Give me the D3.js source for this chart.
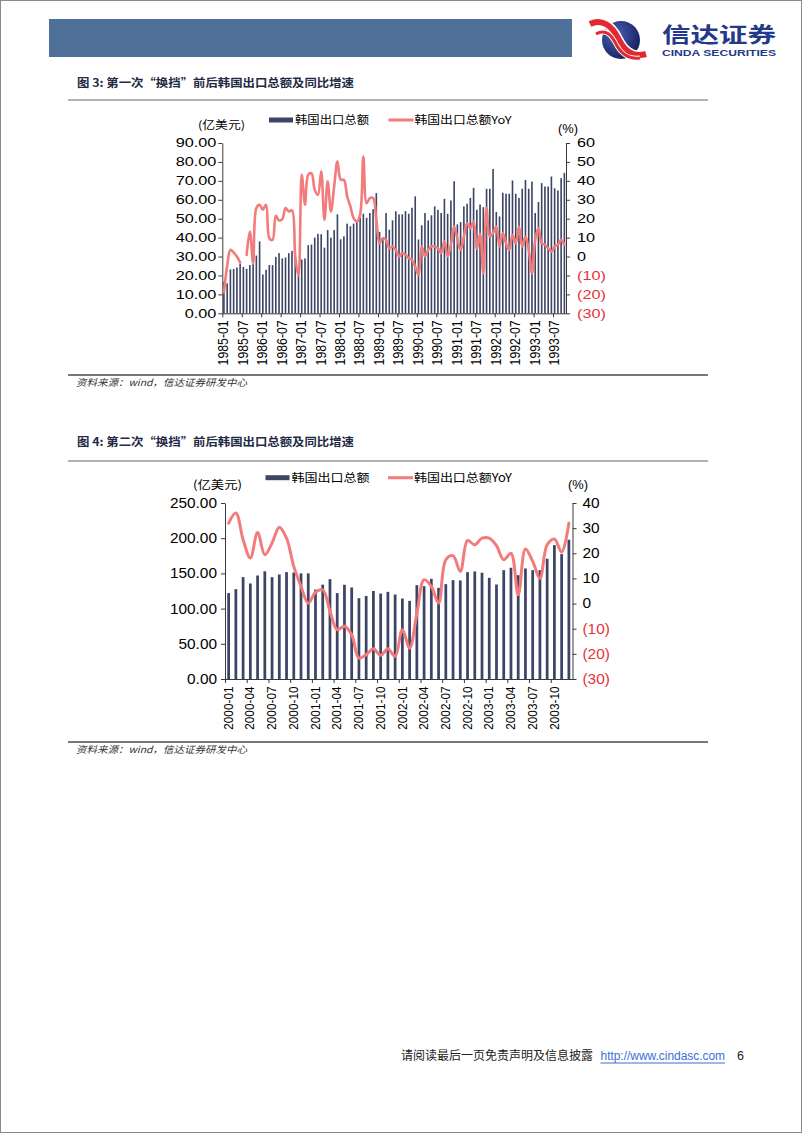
<!DOCTYPE html>
<html><head><meta charset="utf-8">
<script src="https://cdn.jsdelivr.net/npm/d3@7"></script>
<style>body{margin:0;background:#fff}svg{display:block}</style>
</head><body>
<svg id="page" width="802" height="1133"></svg>
<script>
// ---------------- DATA ----------------
// Chart 1: 1985-01 .. 1993-10 (monthly)
const start1 = [1985, 1];
const exports1 = [16.5,15.8,23.2,23.4,24.2,26.0,24.5,23.5,25.5,26.0,30.5,38.0,
  20.5,23.0,25.5,25.5,29.8,31.8,29.0,29.5,31.8,33.0,33.0,20.0,
  28.4,29.0,36.0,36.3,40.0,42.0,41.8,34.7,44.0,40.0,44.0,52.3,
  39.1,40.7,47.4,46.0,47.4,49.1,50.5,52.6,50.5,53.0,55.0,63.5,
  43.0,39.5,53.0,44.2,49.1,53.9,52.3,52.3,54.0,52.6,55.8,61.8,
  39.0,46.5,53.0,49.1,51.8,56.5,54.7,53.0,60.5,52.6,59.6,69.8,
  47.0,48.2,56.5,57.9,61.0,66.3,54.7,57.5,56.1,65.8,65.8,76.3,
  53.5,51.2,63.7,63.2,63.2,70.2,63.2,61.0,65.8,70.5,65.8,69.6,
  53.0,58.8,68.8,67.0,67.0,72.3,66.1,64.9,71.4,74.2];
const yoy1 = [-19,-5,3.5,2.1,0,-3.2,null,0.9,13.2,-3.5,25.6,27.4,
  24.7,27.4,9.7,8.8,21.5,19.1,19.8,25.6,23.8,24.4,0,-10,
  43.2,27.4,43.2,44,35.3,32.6,45,19.4,39.7,23.8,37,50.3,
  40.6,40.6,31.8,26.5,20.3,18.5,22,52.9,28.2,30.9,30.9,19.4,
  7.1,9.7,8.8,4.4,5.3,3.5,0,1.8,0.9,-0.9,-1.8,-5.3,
  -9.7,5.3,0,3.5,5.3,5.3,4.4,1.8,8,0,6.2,15.9,
  9.5,3.5,10.6,17.6,15,18.5,4,12,-9,25.6,10.6,12.4,
  15.9,5.3,12.4,7,3.5,11.5,7,15.9,5.3,10.6,3.5,-8.8,
  8.8,15,7,6.2,4.4,2.6,5.3,6.2,8.8,6.2];
const ticks1 = ["1985-01","1985-07","1986-01","1986-07","1987-01","1987-07","1988-01","1988-07",
  "1989-01","1989-07","1990-01","1990-07","1991-01","1991-07","1992-01","1992-07","1993-01","1993-07"];
const leftTicks1 = [0,10,20,30,40,50,60,70,80,90];
const rightTicks1 = [-30,-20,-10,0,10,20,30,40,50,60];

// Chart 2: 2000-01 .. 2003-12 (monthly)
const start2 = [2000, 1];
const exports2 = [122,127.6,144.7,135.7,147,153,144.7,148.5,151.8,151.3,150,150,
  127,134,141.8,122,133.8,130,114.8,118,125,121.4,123.8,120,
  114.3,111,133.3,131.9,142.3,129.5,134.7,140.4,140,151.8,152.8,150.9,
  143.7,134.2,154.6,158,147.5,157,154.6,154.6,170.8,190.2,177.4,197.8];
const yoy2 = [32,36,25.4,18.1,28.3,19.4,24.1,30.4,26,14.8,6.8,0.1,
  4.5,5.5,-3,-10.4,-9,-12.4,-21.7,-20.3,-18,-20.6,-18,-21,
  -10.4,-17.7,-4,9.5,6.8,0.2,17.4,19,12.8,25.1,23.4,26,
  26,23,17.4,20,3.5,21.7,16.8,10.1,23.4,25.7,20.5,32];
const ticks2 = ["2000-01","2000-04","2000-07","2000-10","2001-01","2001-04","2001-07","2001-10",
  "2002-01","2002-04","2002-07","2002-10","2003-01","2003-04","2003-07","2003-10"];
const leftTicks2 = [0,50,100,150,200,250];
const rightTicks2 = [-30,-20,-10,0,10,20,30,40];

const seriesNames = ["韩国出口总额", "韩国出口总额YoY"];

// ---------------- HELPERS ----------------
function monthRange(y, m, n) {
  const a = [];
  for (let i = 0; i < n; i++) {
    const yy = y + Math.floor((m - 1 + i) / 12), mm = (m - 1 + i) % 12 + 1;
    a.push(yy + "-" + String(mm).padStart(2, "0"));
  }
  return a;
}
const SANS = "'Liberation Sans', Arial, 'Noto Sans CJK SC', sans-serif";
const CJK = "'Noto Sans CJK SC', 'Liberation Sans', sans-serif";
const BAR = "#3d4566", LINE = "#f27b7b", RED = "#e8313b", AX = "#3a3a3a";

const svg = d3.select("#page");
svg.append("rect").attr("x",0).attr("y",0).attr("width",802).attr("height",1133).attr("fill","#fff");
svg.append("rect").attr("x",0.5).attr("y",0.5).attr("width",801).attr("height",1132)
  .attr("fill","none").attr("stroke","#8a8a8a").attr("stroke-width",1);

function stext(g, x, y, txt, o) {
  o = o || {};
  const t = g.append("text")
    .attr("transform", `translate(${x},${y}) scale(${o.sx||1},1)`)
    .attr("font-family", o.font || SANS)
    .attr("font-size", o.size || 12)
    .attr("fill", o.fill || "#000")
    .attr("text-anchor", o.anchor || "start")
    .attr("dy", o.dy || "0.35em")
    .text(txt);
  if (o.weight) t.attr("font-weight", o.weight);
  if (o.style) t.attr("font-style", o.style);
  if (o.len) t.attr("textLength", o.len).attr("lengthAdjust", "spacingAndGlyphs");
  return t;
}

// ---------------- HEADER ----------------
svg.append("rect").attr("x",49).attr("y",19).attr("width",523).attr("height",38).attr("fill","#4e7099");
const defs = svg.append("defs");
const rg = defs.append("radialGradient").attr("id","ball").attr("cx","35%").attr("cy","35%").attr("r","70%");
rg.append("stop").attr("offset","0%").attr("stop-color","#4a62b8");
rg.append("stop").attr("offset","100%").attr("stop-color","#16205e");
const logo = svg.append("g");
logo.append("circle").attr("cx",621).attr("cy",40).attr("r",19).attr("fill","url(#ball)");
logo.append("path").attr("d","M590,24 C602,18 612,26 618,38 C624,50 632,58 646,54")
  .attr("fill","none").attr("stroke","#fff").attr("stroke-width",9);
logo.append("path").attr("d","M590,24 C602,18 612,26 618,38 C624,50 632,58 646,54")
  .attr("fill","none").attr("stroke","#e02a2f").attr("stroke-width",6);
logo.append("path").attr("d","M596,34 C606,28 612,36 616,44 C620,52 628,60 640,58")
  .attr("fill","none").attr("stroke","#fff").attr("stroke-width",5);
logo.append("path").attr("d","M596,34 C606,28 612,36 616,44 C620,52 628,60 640,58")
  .attr("fill","none").attr("stroke","#e02a2f").attr("stroke-width",3);
stext(svg, 662, 34.5, "信达证券", {font: CJK, size: 21, weight: 700, fill: "#23398a", len: 114, sx: 1});
stext(svg, 662, 53.5, "CINDA SECURITIES", {size: 8.5, weight: 700, fill: "#23398a", len: 114});

// ---------------- CHART ----------------
function drawChart(c) {
  const g = svg.append("g");
  const cats = monthRange(c.start[0], c.start[1], c.bars.length);
  const n = cats.length;
  // title + rules
  stext(g, 77, c.titleY, c.title, {font: CJK, size: 11.5, weight: 700, fill: "#1f2b44", len: 277});
  g.append("line").attr("x1",68).attr("x2",708).attr("y1",c.ruleTop).attr("y2",c.ruleTop)
    .attr("stroke","#9a9a9a").attr("stroke-width",1.5);
  g.append("line").attr("x1",68).attr("x2",708).attr("y1",c.ruleBot).attr("y2",c.ruleBot)
    .attr("stroke","#4a4a4a").attr("stroke-width",1.5);
  stext(g, 76, c.ruleBot + 8, "资料来源：wind，信达证券研发中心",
    {font: CJK, size: 9.5, style: "italic", fill: "#333", len: 171});

  const xb = d3.scaleBand().domain(cats).range([c.x0, c.x1])
    .paddingInner(c.pad).paddingOuter(c.pad / 2).align(0.5);
  const xi = d3.scaleLinear().domain([0, n]).range([c.x0, c.x1]);
  const yL = d3.scaleLinear().domain([0, d3.max(c.leftTicks)]).range([c.yBot, c.yTop]);
  const yR = d3.scaleLinear().domain(d3.extent(c.rightTicks)).range([c.yBot, c.yTop]);

  // bars
  g.append("g").selectAll("rect").data(c.bars.map((v, i) => ({c: cats[i], v})))
    .join("rect")
    .attr("x", d => xb(d.c)).attr("width", xb.bandwidth())
    .attr("y", d => yL(d.v)).attr("height", d => yL(0) - yL(d.v))
    .attr("fill", BAR);

  // axes
  const ax = (sel) => { sel.selectAll("path,line").attr("stroke", AX).attr("stroke-width", 1); };
  const gl = g.append("g").attr("transform", `translate(${c.x0},0)`)
    .call(d3.axisLeft(yL).tickValues(c.leftTicks).tickSize(4).tickSizeOuter(0).tickFormat(d3.format(".2f")));
  ax(gl);
  gl.selectAll("text").remove();
  c.leftTicks.forEach(v => stext(g, c.x0 - c.leftGap, yL(v), d3.format(".2f")(v),
    {size: c.fs, sx: c.sx, anchor: "end"}));

  const gr = g.append("g").attr("transform", `translate(${c.x1},0)`)
    .call(d3.axisRight(yR).tickValues(c.rightTicks).tickSize(4).tickSizeOuter(0));
  ax(gr);
  gr.selectAll("text").remove();
  c.rightTicks.forEach(v => stext(g, c.x1 + c.rightGap, yR(v), v < 0 ? `(${-v})` : String(v),
    {size: c.fs, sx: c.sx, fill: v < 0 ? RED : "#000"}));

  const tickIdx = c.ticks.map(t => cats.indexOf(t));
  const gb = g.append("g").attr("transform", `translate(0,${c.yBot})`)
    .call(d3.axisBottom(xi).tickValues(tickIdx).tickSize(4).tickSizeOuter(0).tickFormat(""));
  ax(gb);
  tickIdx.forEach((ti, k) => {
    g.append("text")
      .attr("transform", `translate(${xi(ti) + c.xlabDx},${c.yBot + c.xlabTop}) scale(${c.xsx},1) rotate(-90)`)
      .attr("font-family", SANS).attr("font-size", c.xfs).attr("text-anchor", "end")
      .attr("dy", "0.35em").text(c.ticks[k]);
  });

  // line
  const line = d3.line()
    .defined(d => d.v != null)
    .x(d => xb(d.c) + xb.bandwidth() / 2)
    .y(d => yR(d.v))
    .curve(d3.curveCatmullRom.alpha(0.5));
  g.append("path").datum(c.yoy.map((v, i) => ({c: cats[i], v})))
    .attr("d", line).attr("fill", "none").attr("stroke", LINE)
    .attr("stroke-width", c.lw).attr("stroke-linejoin", "round").attr("stroke-linecap", "round");

  // units
  stext(g, c.unitL[0], c.unitL[1], "(亿美元)", {font: CJK, size: c.lfs, len: c.unitL[2]});
  stext(g, c.unitR[0], c.unitR[1], "(%)", {font: SANS, size: c.lfs + 1, len: c.unitR[2]});

  // legend
  const L = c.legend;
  g.append("rect").attr("x", L.bx).attr("y", L.y - 2.5).attr("width", 24).attr("height", 5).attr("fill", BAR);
  stext(g, L.bx + 26, L.y, seriesNames[0], {font: CJK, size: c.lfs, len: L.t1});
  g.append("line").attr("x1", L.lx).attr("x2", L.lx + 25).attr("y1", L.y).attr("y2", L.y)
    .attr("stroke", LINE).attr("stroke-width", 3);
  stext(g, L.lx + 26, L.y, seriesNames[1], {font: CJK, size: c.lfs, len: L.t2});
}

drawChart({
  title: "图 3: 第一次“换挡”前后韩国出口总额及同比增速", titleY: 83, ruleTop: 100, ruleBot: 375,
  start: start1, bars: exports1, yoy: yoy1, ticks: ticks1,
  leftTicks: leftTicks1, rightTicks: rightTicks1,
  x0: 222.3, x1: 566, yTop: 143, yBot: 313.3, pad: 0.5,
  fs: 12.5, sx: 1.3, leftGap: 6, rightGap: 11, xfs: 12.3, xsx: 1.15, xlabDx: 1, xlabTop: 7,
  lw: 2.6, lfs: 11,
  unitL: [198, 125, 47], unitR: [558, 129, 20],
  legend: {y: 120, bx: 269, lx: 388.5, t1: 74, t2: 97}
});

drawChart({
  title: "图 4: 第二次“换挡”前后韩国出口总额及同比增速", titleY: 442, ruleTop: 461, ruleBot: 742,
  start: start2, bars: exports2, yoy: yoy2, ticks: ticks2,
  leftTicks: leftTicks2, rightTicks: rightTicks2,
  x0: 225, x1: 572.5, yTop: 503, yBot: 679, pad: 0.62,
  fs: 14, sx: 1.1, leftGap: 8, rightGap: 10, xfs: 11.8, xsx: 1.15, xlabDx: 3, xlabTop: 7.5,
  lw: 3, lfs: 11.5,
  unitL: [193, 485, 49], unitR: [568, 485, 20],
  legend: {y: 477.7, bx: 265.5, lx: 388, t1: 78, t2: 98}
});

// ---------------- FOOTER ----------------
stext(svg, 401, 1056, "请阅读最后一页免责声明及信息披露", {font: CJK, size: 12, fill: "#222", len: 192});
stext(svg, 600.5, 1056, "http://www.cindasc.com", {size: 12.5, fill: "#3b6fd0", len: 124.5});
svg.append("line").attr("x1", 600.5).attr("x2", 725).attr("y1", 1063).attr("y2", 1063)
  .attr("stroke", "#3b6fd0").attr("stroke-width", 1);
stext(svg, 737, 1056, "6", {size: 12.5, fill: "#222"});
</script>
</body></html>
